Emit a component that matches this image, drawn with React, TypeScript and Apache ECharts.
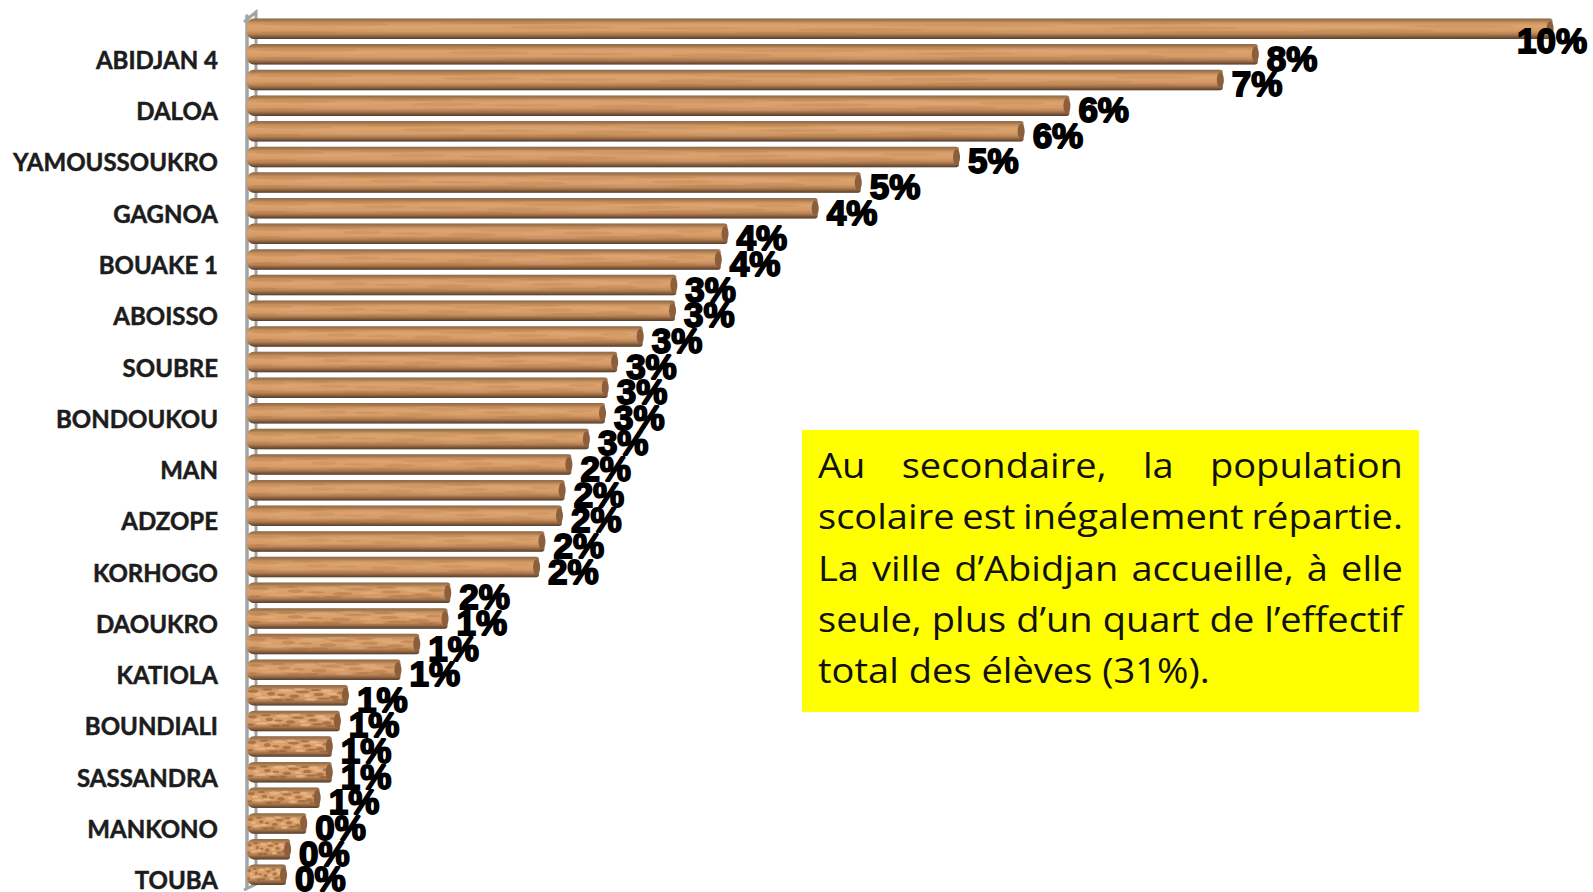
import React, { useEffect, useRef } from "react";
import * as echarts from "echarts";

const categories = ["", "ABIDJAN 4", "", "DALOA", "", "YAMOUSSOUKRO", "", "GAGNOA", "", "BOUAKE 1", "", "ABOISSO", "", "SOUBRE", "", "BONDOUKOU", "", "MAN", "", "ADZOPE", "", "KORHOGO", "", "DAOUKRO", "", "KATIOLA", "", "BOUNDIALI", "", "SASSANDRA", "", "MANKONO", "", "TOUBA"];
const values = [9.7, 7.51, 7.25, 6.11, 5.77, 5.29, 4.56, 4.24, 3.57, 3.52, 3.19, 3.18, 2.94, 2.75, 2.68, 2.66, 2.54, 2.41, 2.36, 2.34, 2.21, 2.17, 1.51, 1.49, 1.28, 1.14, 0.75, 0.69, 0.63, 0.63, 0.54, 0.44, 0.32, 0.29];
const noteLines = [
  "Au secondaire, la population",
  "scolaire est inégalement répartie.",
  "La ville d’Abidjan accueille, à elle",
  "seule, plus d’un quart de l’effectif",
  "total des élèves (31%).",
];

// Wood grain: fixed blotches in unit coordinates of a bar, stretched with it like a fill texture.
const grain: number[][] = [
  [0.06, 0.3, 0.05, 0.08, 1], [0.16, 0.62, 0.07, 0.07, 0], [0.24, 0.42, 0.04, 0.09, 1], [0.31, 0.74, 0.06, 0.06, 1],
  [0.38, 0.26, 0.08, 0.07, 0], [0.47, 0.55, 0.05, 0.09, 1], [0.55, 0.34, 0.07, 0.06, 1], [0.63, 0.7, 0.06, 0.07, 0],
  [0.71, 0.46, 0.05, 0.08, 1], [0.79, 0.28, 0.06, 0.07, 0], [0.86, 0.6, 0.05, 0.08, 1], [0.93, 0.38, 0.04, 0.07, 1],
  [0.11, 0.46, 0.04, 0.06, 0], [0.2, 0.22, 0.05, 0.05, 1], [0.28, 0.58, 0.06, 0.05, 0], [0.42, 0.72, 0.05, 0.06, 1],
  [0.52, 0.2, 0.06, 0.05, 0], [0.6, 0.52, 0.04, 0.06, 0], [0.68, 0.24, 0.05, 0.05, 1], [0.76, 0.66, 0.06, 0.05, 1],
  [0.84, 0.42, 0.05, 0.05, 0], [0.9, 0.74, 0.05, 0.05, 1], [0.04, 0.68, 0.03, 0.06, 1], [0.34, 0.48, 0.04, 0.05, 1],
];

const axisFont = "Lato";
const noteFont = '"Open Sans"';
const noteSize = 34;
const noteStretch = 1.12;
const noteLeft = 818;
const noteRight = 1403;
const noteY = [465, 516, 568, 619, 670];

function buildNote() {
  const ctx = document.createElement("canvas").getContext("2d")!;
  ctx.font = `${noteSize}px ${noteFont}`;
  const out: any[] = [];
  noteLines.forEach((line, i) => {
    const words = line.split(" ");
    const widths = words.map((w) => ctx.measureText(w).width * noteStretch);
    const total = widths.reduce((a, b) => a + b, 0);
    const space = i === noteLines.length - 1 ? ctx.measureText(" ").width * noteStretch : (noteRight - noteLeft - total) / (words.length - 1);
    let x = noteLeft;
    words.forEach((w, j) => {
      out.push({ type: "text", x, y: noteY[i], scaleX: noteStretch, z: 11, style: { text: w, fill: "#111", font: `${noteSize}px ${noteFont}`, textVerticalAlign: "middle", textAlign: "left" } });
      x += widths[j] + space;
    });
  });
  return out;
}

const woodFill = new echarts.graphic.LinearGradient(0, 0, 0, 1, [
  { offset: 0, color: "#a08a78" },
  { offset: 0.08, color: "#b5824f" },
  { offset: 0.35, color: "#dda36f" },
  { offset: 0.6, color: "#d59a66" },
  { offset: 0.85, color: "#a9764c" },
  { offset: 1, color: "#6e5540" },
]);
const shade = new echarts.graphic.LinearGradient(0, 0, 0, 1, [
  { offset: 0, color: "rgba(90,60,35,0.35)" },
  { offset: 0.2, color: "rgba(90,60,35,0)" },
  { offset: 0.75, color: "rgba(70,45,25,0)" },
  { offset: 1, color: "rgba(60,40,25,0.45)" },
]);

function renderBar(params: any, api: any) {
  const v = api.value(0);
  const idx = api.value(1);
  const [x1, cy] = api.coord([v, idx]);
  const [x0] = api.coord([0, idx]);
  const h = 20.5;
  const top = cy - h / 2;
  const w = x1 - x0;
  const strength = w < 120 ? 0.6 : w < 220 ? 0.28 : 0.13;
  const children: any[] = [
    { type: "rect", shape: { x: x0, y: top, width: w, height: h, r: [7, 3, 3, 7] }, style: { fill: woodFill } },
  ];
  grain.forEach(([u, t, ru, rt, dark]) => {
    children.push({
      type: "ellipse",
      shape: { cx: x0 + u * w, cy: top + t * h, rx: ru * w, ry: rt * h },
      style: { fill: dark ? "#8f5a30" : "#f0c498", opacity: strength },
    });
  });
  children.push({ type: "rect", shape: { x: x0, y: top, width: w, height: h, r: [7, 3, 3, 7] }, style: { fill: shade } });
  children.push({ type: "ellipse", shape: { cx: x1 - 2.5, cy, rx: 3.5, ry: h / 2 - 2.5 }, style: { fill: "#8c5f3c" } });
  const limit = api.getWidth() - 76;
  const clamped = x1 + 9 > limit;
  children.push({
    type: "text",
    x: clamped ? limit : x1 + 9,
    y: cy + (clamped ? 12 : 4),
    z2: 5,
    style: {
      text: Math.round(v) + "%",
      font: 'bold 35px "Liberation Sans"',
      fill: "#000",
      stroke: "#000",
      lineWidth: 1.8,
      textAlign: "left",
      textVerticalAlign: "middle",
    },
  });
  return { type: "group", children };
}

export default function App() {
  const ref = useRef<HTMLDivElement>(null);
  useEffect(() => {
    document.body.style.margin = "0";
    const chart = echarts.init(ref.current!, undefined, { renderer: "svg" });
    chart.setOption({
      animation: false,
      backgroundColor: "#fff",
      grid: { left: 247, top: 15.9, width: 1346, height: 873.5 },
      xAxis: { type: "value", min: 0, max: 10, show: false },
      yAxis: {
        type: "category",
        inverse: true,
        offset: 2,
        data: categories,
        axisLine: { show: true, lineStyle: { color: "#a3a3a3", width: 3.5 } },
        axisTick: { show: false },
        axisLabel: {
          interval: 0,
          margin: 27,
          verticalAlign: "top",
          lineHeight: 10,
          color: "#1c1c1c",
          fontFamily: axisFont,
          fontWeight: "bold",
          fontSize: 24,
          textBorderColor: "#1c1c1c",
          textBorderWidth: 0.5,
        },
      },
      graphic: [
        { type: "polyline", z: 0, shape: { points: [[244, 22], [256, 12], [256, 884], [244, 890]] }, style: { stroke: "#a3a3a3", lineWidth: 3, fill: "none" } },
        { type: "rect", z: 10, shape: { x: 802, y: 430, width: 617, height: 282 }, style: { fill: "#ffff00" } },
        ...buildNote(),
      ],
      series: [
        {
          type: "custom",
          clip: false,
          z: 5,
          renderItem: renderBar,
          encode: { x: 0, y: 1 },
          data: values.map((v, i) => [v, i]),
        },
      ],
    });
    return () => chart.dispose();
  }, []);
  return <div ref={ref} style={{ position: "fixed", left: 0, top: 0, width: 1593, height: 892 }} />;
}
